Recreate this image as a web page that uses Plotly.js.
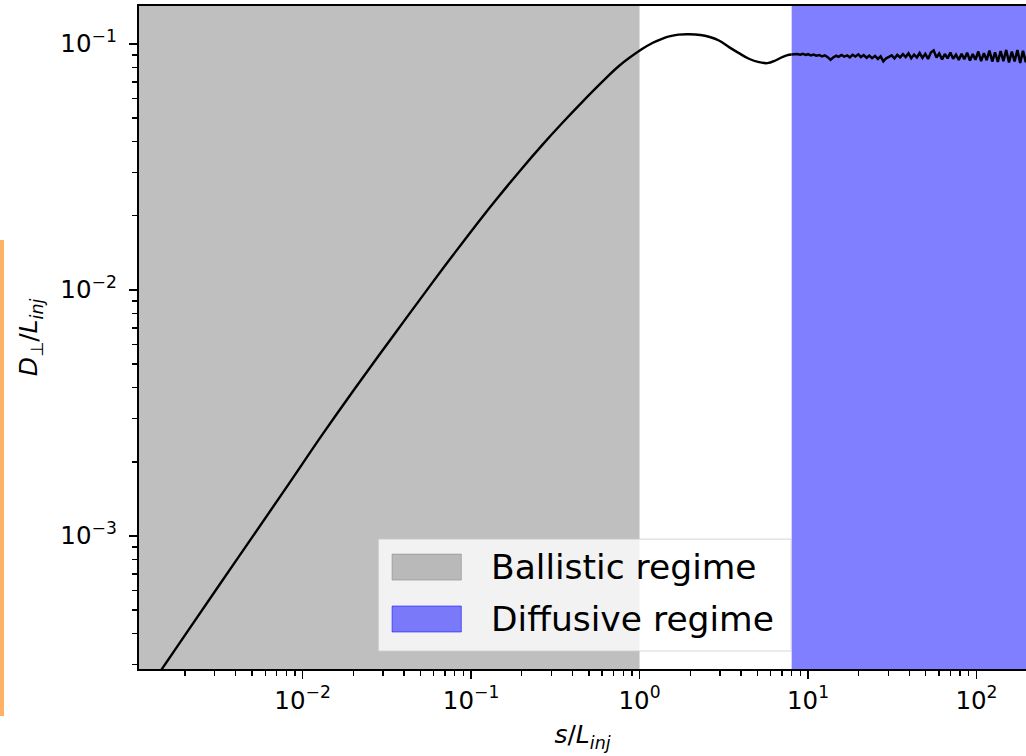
<!DOCTYPE html>
<html><head><meta charset="utf-8">
<script src="https://cdn.plot.ly/plotly-3.0.1.min.js"></script>
<style>html,body{margin:0;padding:0;background:#fff;overflow:hidden}#chart{width:1026px;height:756px}#edge{position:absolute;left:0;top:240px;width:3.5px;height:476px;background:#ffb266}</style>
</head><body><div id="chart"></div><div id="edge"></div>
<script>
// smooth part of the running diffusion coefficient
const sSmooth = [0.0012, 0.002, 0.004, 0.008, 0.013, 0.02, 0.0357, 0.06, 0.08, 0.117, 0.14, 0.2, 0.265, 0.35, 0.458, 0.6, 0.755, 1.04, 1.2, 1.36, 1.5, 1.7, 1.97, 2.3, 2.58, 2.96, 3.4, 3.89, 4.46, 5.12, 5.73, 6.41, 7.03, 7.71, 8.0];
const dSmooth = [2.36e-4, 3.94e-4, 7.88e-4, 1.57e-3, 2.56e-3, 3.89e-3, 6.71e-3, 0.01087, 0.01413, 0.01982, 0.02312, 0.03108, 0.03883, 0.04785, 0.05805, 0.06995, 0.08122, 0.09535, 0.1010, 0.1048, 0.1071, 0.1089, 0.1093, 0.1085, 0.1068, 0.1031, 0.0969, 0.0916, 0.0869, 0.0842, 0.0834, 0.0855, 0.0883, 0.0902, 0.0904];
// noisy plateau (estimated)
const sNoisy = [8.3, 8.6, 9.0, 9.3, 9.7, 10, 10.4, 10.8, 11.2, 11.7, 12.1, 12.6, 13.1, 13.6, 14.1, 14.7, 15.2, 15.8, 16.4, 17.1, 17.7, 18.4, 19.1, 19.9, 20.6, 21.4, 22.3, 23.1, 24.0, 25.0, 26.0, 27.0, 28.0, 29.1, 30.2, 31.4, 32.6, 33.9, 35.2, 36.6, 38.0, 39.5, 41.0, 42.6, 44.3, 46.0, 47.8, 49.7, 51.6, 53.6, 55.7, 57.9, 60.1, 62.5, 64.9, 67.4, 70.0, 72.7, 75.6, 78.5, 81.6, 84.7, 88.0, 91.5, 95.0, 98.7, 102.5, 106.5, 110.7, 115.0, 119.4, 124.1, 128.9, 133.9, 139.1, 144.5, 150.2, 156.0, 162.1, 168.4, 175.0, 181.8, 188.8, 196.2, 203.8, 211.8];
const dNoisy = [0.0905, 0.0909, 0.0903, 0.0910, 0.0901, 0.0907, 0.0897, 0.0904, 0.0894, 0.0900, 0.0888, 0.0897, 0.0882, 0.0860, 0.0879, 0.0894, 0.0885, 0.0900, 0.0887, 0.0897, 0.0880, 0.0902, 0.0888, 0.0906, 0.0883, 0.0899, 0.0877, 0.0895, 0.0874, 0.0893, 0.0868, 0.0889, 0.0848, 0.0873, 0.0884, 0.0897, 0.0872, 0.0901, 0.0880, 0.0907, 0.0883, 0.0914, 0.0874, 0.0904, 0.0880, 0.0917, 0.0876, 0.0910, 0.0868, 0.0922, 0.0940, 0.0880, 0.0913, 0.0864, 0.0909, 0.0872, 0.0921, 0.0869, 0.0903, 0.0860, 0.0910, 0.0866, 0.0920, 0.0855, 0.0908, 0.0861, 0.0930, 0.0850, 0.0916, 0.0857, 0.0938, 0.0847, 0.0922, 0.0843, 0.0934, 0.0850, 0.0944, 0.0840, 0.0930, 0.0848, 0.0944, 0.0836, 0.0937, 0.0842, 0.0947, 0.0846];

const ballisticEnd = 1.0;
const diffusiveStart = 8.0;
const farLeft = 1e-5, farRight = 1e5, yLow = 1e-6, yHigh = 10;
const legendLabels = ['Ballistic regime', 'Diffusive regime'];

const xTickVals = [0.01, 0.1, 1, 10, 100];
const xTickText = ['10<sup>−2</sup>', '10<sup>−1</sup>', '10<sup>0</sup>', '10<sup>1</sup>', '10<sup>2</sup>'];
const yTickVals = [0.001, 0.01, 0.1];
const yTickText = ['10<sup>−3</sup>', '10<sup>−2</sup>', '10<sup>−1</sup>'];

const grayFill = 'rgba(128,128,128,0.5)';
const blueFill = 'rgba(0,0,255,0.5)';
const FONT = 'DejaVu Sans, Verdana, sans-serif';

const traces = [
  {x: [farLeft, ballisticEnd, ballisticEnd, farLeft, farLeft], y: [yLow, yLow, yHigh, yHigh, yLow],
   type: 'scatter', mode: 'lines', fill: 'toself', fillcolor: grayFill, line: {width: 0}, hoverinfo: 'skip', name: legendLabels[0]},
  {x: [diffusiveStart, farRight, farRight, diffusiveStart, diffusiveStart], y: [yLow, yLow, yHigh, yHigh, yLow],
   type: 'scatter', mode: 'lines', fill: 'toself', fillcolor: blueFill, line: {width: 0}, hoverinfo: 'skip', name: legendLabels[1]},
  {x: sSmooth, y: dSmooth, type: 'scatter', mode: 'lines',
   line: {color: '#000', width: 2.4, shape: 'spline', smoothing: 1}, name: 'D'},
  {x: [sSmooth[sSmooth.length - 1]].concat(sNoisy), y: [dSmooth[dSmooth.length - 1]].concat(dNoisy), type: 'scatter', mode: 'lines',
   line: {color: '#000', width: 2.5}, name: 'D noisy'}
];

const axisCommon = {
  type: 'log', showline: true, linecolor: '#000', linewidth: 1.8,
  ticks: 'outside', ticklen: 8.5, tickwidth: 1.8, tickcolor: '#000',
  tickmode: 'array', showgrid: false, zeroline: false,
  tickfont: {family: FONT, size: 24.5, color: '#000'},
  minor: {ticks: 'outside', ticklen: 5, tickwidth: 1.4, tickcolor: '#000', dtick: 'D1', showgrid: false}
};

const layout = {
  width: 1026, height: 756,
  margin: {l: 138.5, r: 0, t: 5.5, b: 87, pad: 0},
  paper_bgcolor: '#fff', plot_bgcolor: '#fff',
  showlegend: false,
  xaxis: Object.assign({}, axisCommon, {
    range: [-2.971, 2.294], mirror: true, tickvals: xTickVals, ticktext: xTickText,
    title: {text: '<i>s</i>/<i>L</i><sub><i>inj</i></sub>', font: {family: FONT, size: 25, color: '#000'}, standoff: 12}
  }),
  yaxis: Object.assign({}, axisCommon, {
    range: [-3.541, -0.8465], mirror: false, tickvals: yTickVals, ticktext: yTickText, ticklabelstandoff: 7,
    title: {text: '<i>D</i><sub>⊥</sub>/<i>L</i><sub><i>inj</i></sub>', font: {family: FONT, size: 25, color: '#000'}, standoff: 15}
  }),
  shapes: [
    {type: 'rect', xref: 'paper', yref: 'paper', x0: 0.2699, x1: 0.7352, y0: 0.0271, y1: 0.1959,
     fillcolor: 'rgba(255,255,255,0.8)', line: {color: 'rgba(204,204,204,0.8)', width: 1}, layer: 'above'},
    {type: 'rect', xref: 'paper', yref: 'paper', x0: 0.2853, x1: 0.3634, y0: 0.1341, y1: 0.1733,
     fillcolor: grayFill, line: {color: grayFill, width: 1}, layer: 'above'},
    {type: 'rect', xref: 'paper', yref: 'paper', x0: 0.2853, x1: 0.3634, y0: 0.0558, y1: 0.0950,
     fillcolor: blueFill, line: {color: blueFill, width: 1}, layer: 'above'}
  ],
  annotations: [
    {xref: 'paper', yref: 'paper', x: 0.3945, y: 0.1537, xanchor: 'left', yanchor: 'middle', showarrow: false,
     text: legendLabels[0], font: {family: FONT, size: 34.5, color: '#000'}},
    {xref: 'paper', yref: 'paper', x: 0.3945, y: 0.0754, xanchor: 'left', yanchor: 'middle', showarrow: false,
     text: legendLabels[1], font: {family: FONT, size: 34.5, color: '#000'}}
  ]
};

Plotly.newPlot('chart', traces, layout, {displayModeBar: false, staticPlot: true});
</script>
</body></html>
